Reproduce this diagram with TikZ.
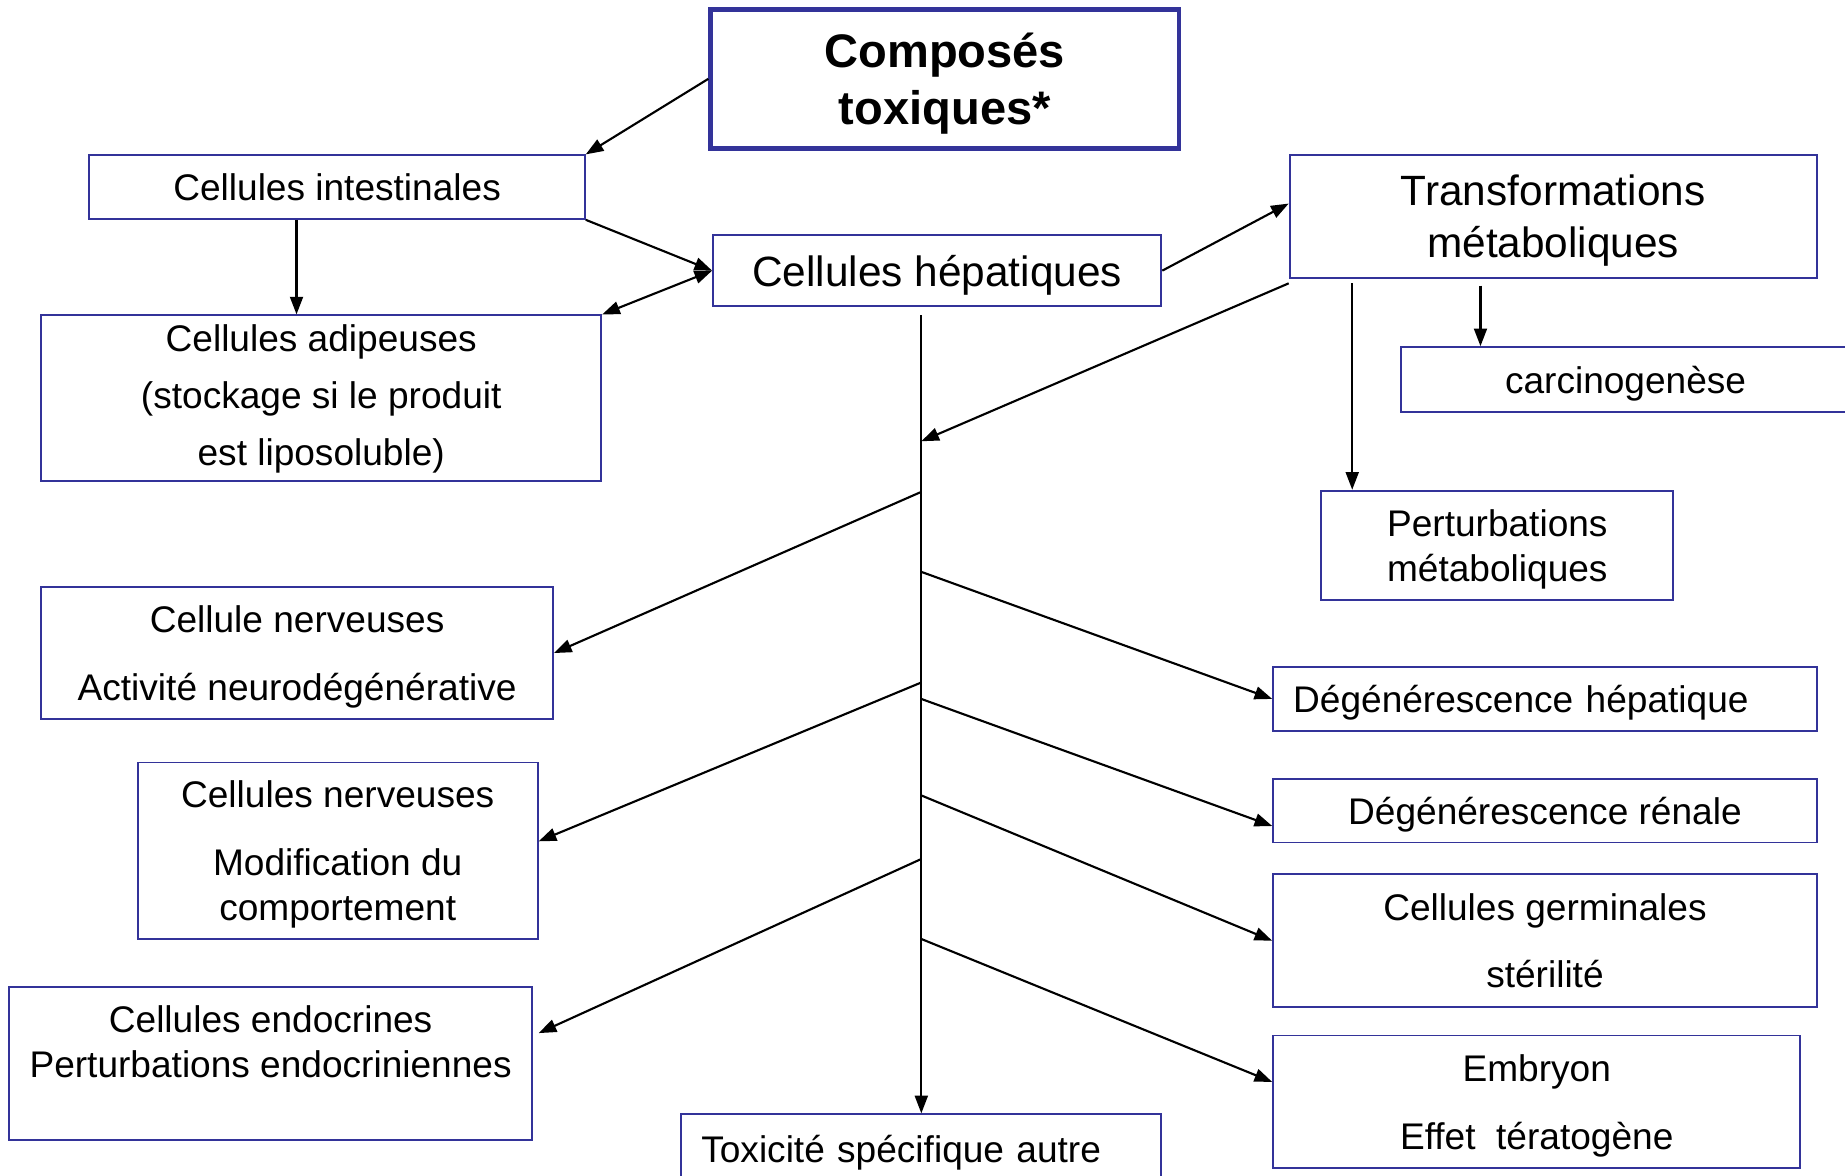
\documentclass[tikz,border=0pt]{standalone}
\usepackage{fontspec}
\setmainfont{Liberation Sans}
\usetikzlibrary{arrows.meta}
\definecolor{boxblue}{HTML}{333399}
\begin{document}
\begin{tikzpicture}[x=1pt,y=-1pt,
  box/.style={draw=boxblue, line width=1.6pt, inner sep=0pt, align=center, text depth=0pt, font=\fontsize{31.5}{38}\selectfont},
  conn/.style={line width=1.8pt, -{Triangle[length=15pt,width=11pt]}},
  conn2/.style={line width=1.8pt, {Triangle[length=15pt,width=11pt]}-{Triangle[length=15pt,width=11pt]}},
  ]
\useasboundingbox (0,0) rectangle (1568,999);
\fill[white] (0,0) rectangle (1568,999);

\node[box, line width=4pt, minimum width=398, minimum height=118, font=\bfseries\fontsize{40}{48}\selectfont] (comp) at (803,67) {Composés\\toxiques*};
\node[box, minimum width=421, minimum height=54] (intest) at (286.5,159) {Cellules intestinales};
\node[box, minimum width=381, minimum height=60, font=\fontsize{36}{44}\selectfont] (hep) at (796.5,230) {Cellules hépatiques};
\node[box, minimum width=448, minimum height=104, font=\fontsize{36}{44}\selectfont] (trans) at (1320,184) {Transformations\\métaboliques};
\node[box, minimum width=381, minimum height=55] (carc) at (1381.5,322.5) {carcinogenèse};
\node[box, minimum width=299, minimum height=93] (pert) at (1272.5,463.5) {Perturbations\\métaboliques};
\node[box, minimum width=476, minimum height=141, text depth=6pt, font=\fontsize{31.5}{48.5}\selectfont] (adip) at (273,338.5) {Cellules adipeuses\\(stockage si le produit\\est liposoluble)};
\node[box, minimum width=435, minimum height=112, font=\fontsize{31.5}{58}\selectfont] (nerv1) at (252.5,555) {Cellule nerveuses\\Activité neurodégénérative};
\node[box, minimum width=340, minimum height=150] (nerv2) at (287,723) {Cellules nerveuses\\[20pt]Modification du\\comportement};
\node[box, minimum width=444, minimum height=130] (endo) at (230,904) {Cellules endocrines\\Perturbations endocriniennes\\\strut};
\node[box, minimum width=408, minimum height=58, align=left, text width=374, inner xsep=17] (tox) at (783,976) {Toxicité spécifique autre};
\node[box, minimum width=462, minimum height=54, align=left, text width=428, inner xsep=17] (degh) at (1313,594) {Dégénérescence hépatique};
\node[box, minimum width=462, minimum height=54] (degr) at (1313,689) {Dégénérescence rénale};
\node[box, minimum width=462, minimum height=113, font=\fontsize{31.5}{57}\selectfont] (germ) at (1313,799.5) {Cellules germinales\\stérilité};
\node[box, minimum width=448, minimum height=113, font=\fontsize{31.5}{58}\selectfont] (emb) at (1306,936.5) {Embryon\\Effet\ \ tératogène};

\coordinate (ttop) at (783,268);
\coordinate (t1) at (783,375);
\coordinate (b1) at (783,418);
\coordinate (b2) at (783,580);
\coordinate (b3) at (783,730);
\coordinate (r1) at (783,486);
\coordinate (r2) at (783,594);
\coordinate (r3) at (783,676);
\coordinate (r4) at (783,798);

\draw[conn] (comp.west) -- (intest.north east);
\draw[conn] (intest.south east) -- (hep.west);
\draw[conn2] (hep.west) -- (adip.north east);
\draw[conn] ([xshift=-34.5pt]intest.south) -- ([xshift=-21pt]adip.north);
\draw[conn] (hep.east) -- ([yshift=11pt]trans.west);
\draw[conn] ([yshift=-4pt]trans.south west) -- (t1);
\draw[conn] ([xshift=54pt,yshift=-4pt]trans.south west) -- ([xshift=27pt]pert.north west);
\draw[conn] ([xshift=163pt,yshift=-6pt]trans.south west) -- ([xshift=68pt]carc.north west);
\draw[conn] (ttop) -- (tox.north);
\draw[conn] (b1) -- (nerv1.east);
\draw[conn] (b2) -- ([yshift=8pt]nerv2.east);
\draw[conn] (b3) -- ([xshift=5pt,yshift=26pt]endo.east);
\draw[conn] (r1) -- (degh.west);
\draw[conn] (r2) -- ([yshift=-13pt]degr.west);
\draw[conn] (r3) -- (germ.west);
\draw[conn] (r4) -- ([yshift=17pt]emb.west);
\end{tikzpicture}
\end{document}
